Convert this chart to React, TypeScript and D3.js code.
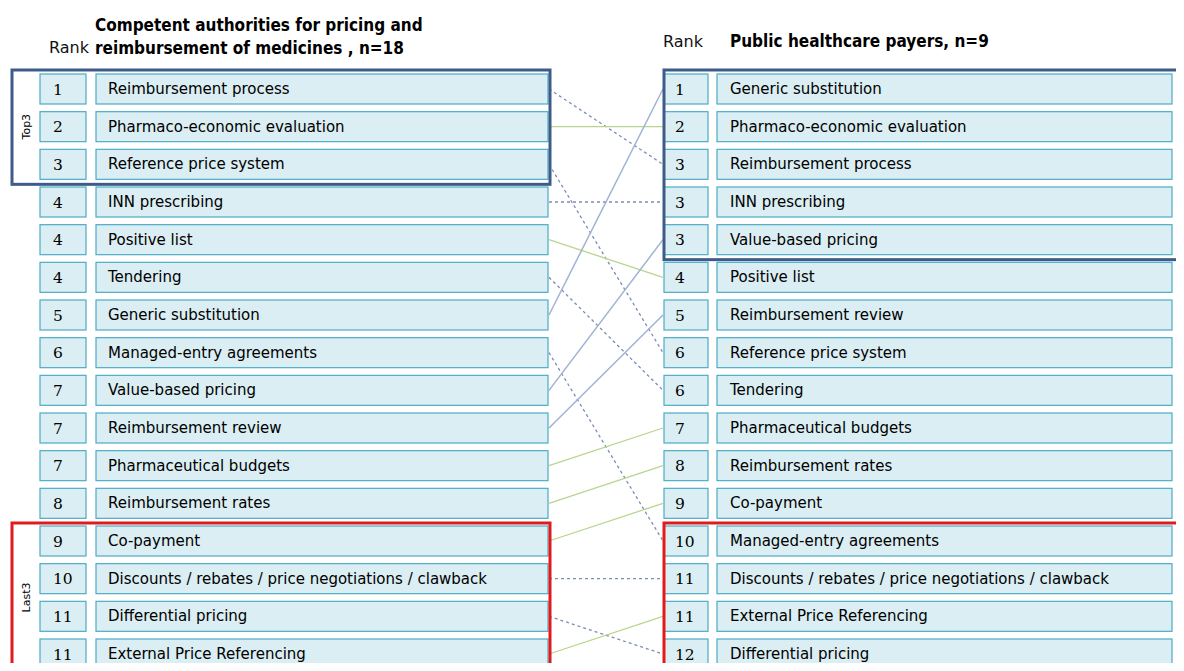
import React from "react";
import * as d3 from "d3";

// left list: competent authorities (n=18)
const leftRanks = ["1", "2", "3", "4", "4", "4", "5", "6", "7", "7", "7", "8", "9", "10", "11", "11"];
const leftItems = [
  "Reimbursement process",
  "Pharmaco-economic evaluation",
  "Reference price system",
  "INN prescribing",
  "Positive list",
  "Tendering",
  "Generic substitution",
  "Managed-entry agreements",
  "Value-based pricing",
  "Reimbursement review",
  "Pharmaceutical budgets",
  "Reimbursement rates",
  "Co-payment",
  "Discounts / rebates / price negotiations / clawback",
  "Differential pricing",
  "External Price Referencing",
];

// right list: public healthcare payers (n=9)
const rightRanks = ["1", "2", "3", "3", "3", "4", "5", "6", "6", "7", "8", "9", "10", "11", "11", "12"];
const rightItems = [
  "Generic substitution",
  "Pharmaco-economic evaluation",
  "Reimbursement process",
  "INN prescribing",
  "Value-based pricing",
  "Positive list",
  "Reimbursement review",
  "Reference price system",
  "Tendering",
  "Pharmaceutical budgets",
  "Reimbursement rates",
  "Co-payment",
  "Managed-entry agreements",
  "Discounts / rebates / price negotiations / clawback",
  "External Price Referencing",
  "Differential pricing",
];

// link style per left item: same / up / down
const linkTypes = ["down", "same", "down", "down", "same", "down", "up", "down", "up", "up", "same", "same", "same", "down", "down", "same"];

const W = 1184;
const H = 671;

const labelFont = "'DejaVu Sans', Tahoma, sans-serif";
const titleFont = "'DejaVu Sans Condensed', 'DejaVu Sans', Tahoma, sans-serif";
const numFont = "'DejaVu Serif', Georgia, serif";

export default function App() {
  const idx = d3.range(leftItems.length);
  const y = d3.scalePoint<number>().domain(idx).range([89, 654]);
  const cellH = 30;

  const L = { rankX: 40, rankW: 46, labX: 96, labW: 452 };
  const R = { rankX: 664, rankW: 44, labX: 717, labW: 455 };

  const lineStyle: Record<string, { stroke: string; dash?: string; w: number }> = {
    same: { stroke: "#b9d58c", w: 1.3 },
    up: { stroke: "#9fb3d3", w: 1.5 },
    down: { stroke: "#7b8db5", dash: "3,3", w: 1.3 },
  };

  const line = d3.line<[number, number]>();

  const cell = (x: number, w: number, yc: number, key: string) => (
    <rect key={key} x={x} y={yc - cellH / 2} width={w} height={cellH} fill="#daeef3" stroke="#4bacc6" strokeWidth={1.2} />
  );

  return (
    <div style={{ margin: -8 }}>
      <svg width={W} height={H} style={{ display: "block" }}>
        <rect width={W} height={H} fill="#fff" />
        <text x={6} y={3} fontFamily={labelFont} fontStyle="italic" fontSize={17} fill="#444">
          Ranking of pricing and reimbursement policies, by competent authorities and public healthcare payers
        </text>

        {/* headers */}
        <text x={49} y={53} fontFamily={labelFont} fontSize={16} fill="#111">Rank</text>
        <text fontFamily={titleFont} fontStretch="condensed" fontWeight="bold" fontSize={17} fill="#000">
          <tspan x={95} y={31}>Competent authorities for pricing and</tspan>
          <tspan x={95} y={54}>reimbursement of medicines , n=18</tspan>
        </text>
        <text x={663} y={47} fontFamily={labelFont} fontSize={16} fill="#111">Rank</text>
        <text x={730} y={47} fontFamily={titleFont} fontStretch="condensed" fontWeight="bold" fontSize={17} fill="#000">
          Public healthcare payers, n=9
        </text>

        {/* links */}
        {idx.map((i) => {
          const j = rightItems.indexOf(leftItems[i]);
          const s = lineStyle[linkTypes[i]];
          return (
            <path
              key={"l" + i}
              d={line([[L.labX + L.labW + 1, y(i)!], [R.rankX - 1, y(j)!]]) || ""}
              stroke={s.stroke}
              strokeWidth={s.w}
              strokeDasharray={s.dash}
              fill="none"
            />
          );
        })}

        {/* left cells */}
        {idx.map((i) => (
          <g key={"L" + i}>
            {cell(L.rankX, L.rankW, y(i)!, "r")}
            {cell(L.labX, L.labW, y(i)!, "c")}
            <text x={L.rankX + 13} y={y(i)! + 5.5} fontFamily={numFont} fontSize={15.5} fill="#000">{leftRanks[i]}</text>
            <text x={L.labX + 12} y={y(i)! + 5} fontFamily={labelFont} fontSize={15} fill="#000">{leftItems[i]}</text>
          </g>
        ))}

        {/* right cells */}
        {idx.map((i) => (
          <g key={"R" + i}>
            {cell(R.rankX, R.rankW, y(i)!, "r")}
            {cell(R.labX, R.labW, y(i)!, "c")}
            <text x={R.rankX + 11} y={y(i)! + 5.5} fontFamily={numFont} fontSize={15.5} fill="#000">{rightRanks[i]}</text>
            <text x={R.labX + 13} y={y(i)! + 5} fontFamily={labelFont} fontSize={15} fill="#000">{rightItems[i]}</text>
          </g>
        ))}

        {/* top3 / last3 frames */}
        <rect x={12} y={y(0)! - cellH / 2 - 4} width={538} height={y(2)! - y(0)! + cellH + 9} fill="none" stroke="#3e5c8a" strokeWidth={3} />
        <rect x={664} y={y(0)! - cellH / 2 - 4} width={540} height={y(4)! - y(0)! + cellH + 9} fill="none" stroke="#3e5c8a" strokeWidth={3} />
        <rect x={12} y={y(12)! - cellH / 2 - 3} width={538} height={200} fill="none" stroke="#e31a1c" strokeWidth={3} />
        <rect x={664} y={y(12)! - cellH / 2 - 3} width={540} height={200} fill="none" stroke="#e31a1c" strokeWidth={3} />

        <text transform={`translate(30,${y(1)}) rotate(-90)`} textAnchor="middle" fontFamily={labelFont} fontSize={11} fill="#000">Top3</text>
        <text transform={`translate(30,${(y(13)! + y(14)!) / 2}) rotate(-90)`} textAnchor="middle" fontFamily={labelFont} fontSize={11} fill="#000">Last3</text>
        <text transform={`translate(1179,140) rotate(90)`} textAnchor="middle" fontFamily={labelFont} fontSize={11} fill="#000">Top3</text>
        <text transform={`translate(1179,603) rotate(90)`} textAnchor="middle" fontFamily={labelFont} fontSize={11} fill="#000">Last3</text>
      </svg>
    </div>
  );
}
